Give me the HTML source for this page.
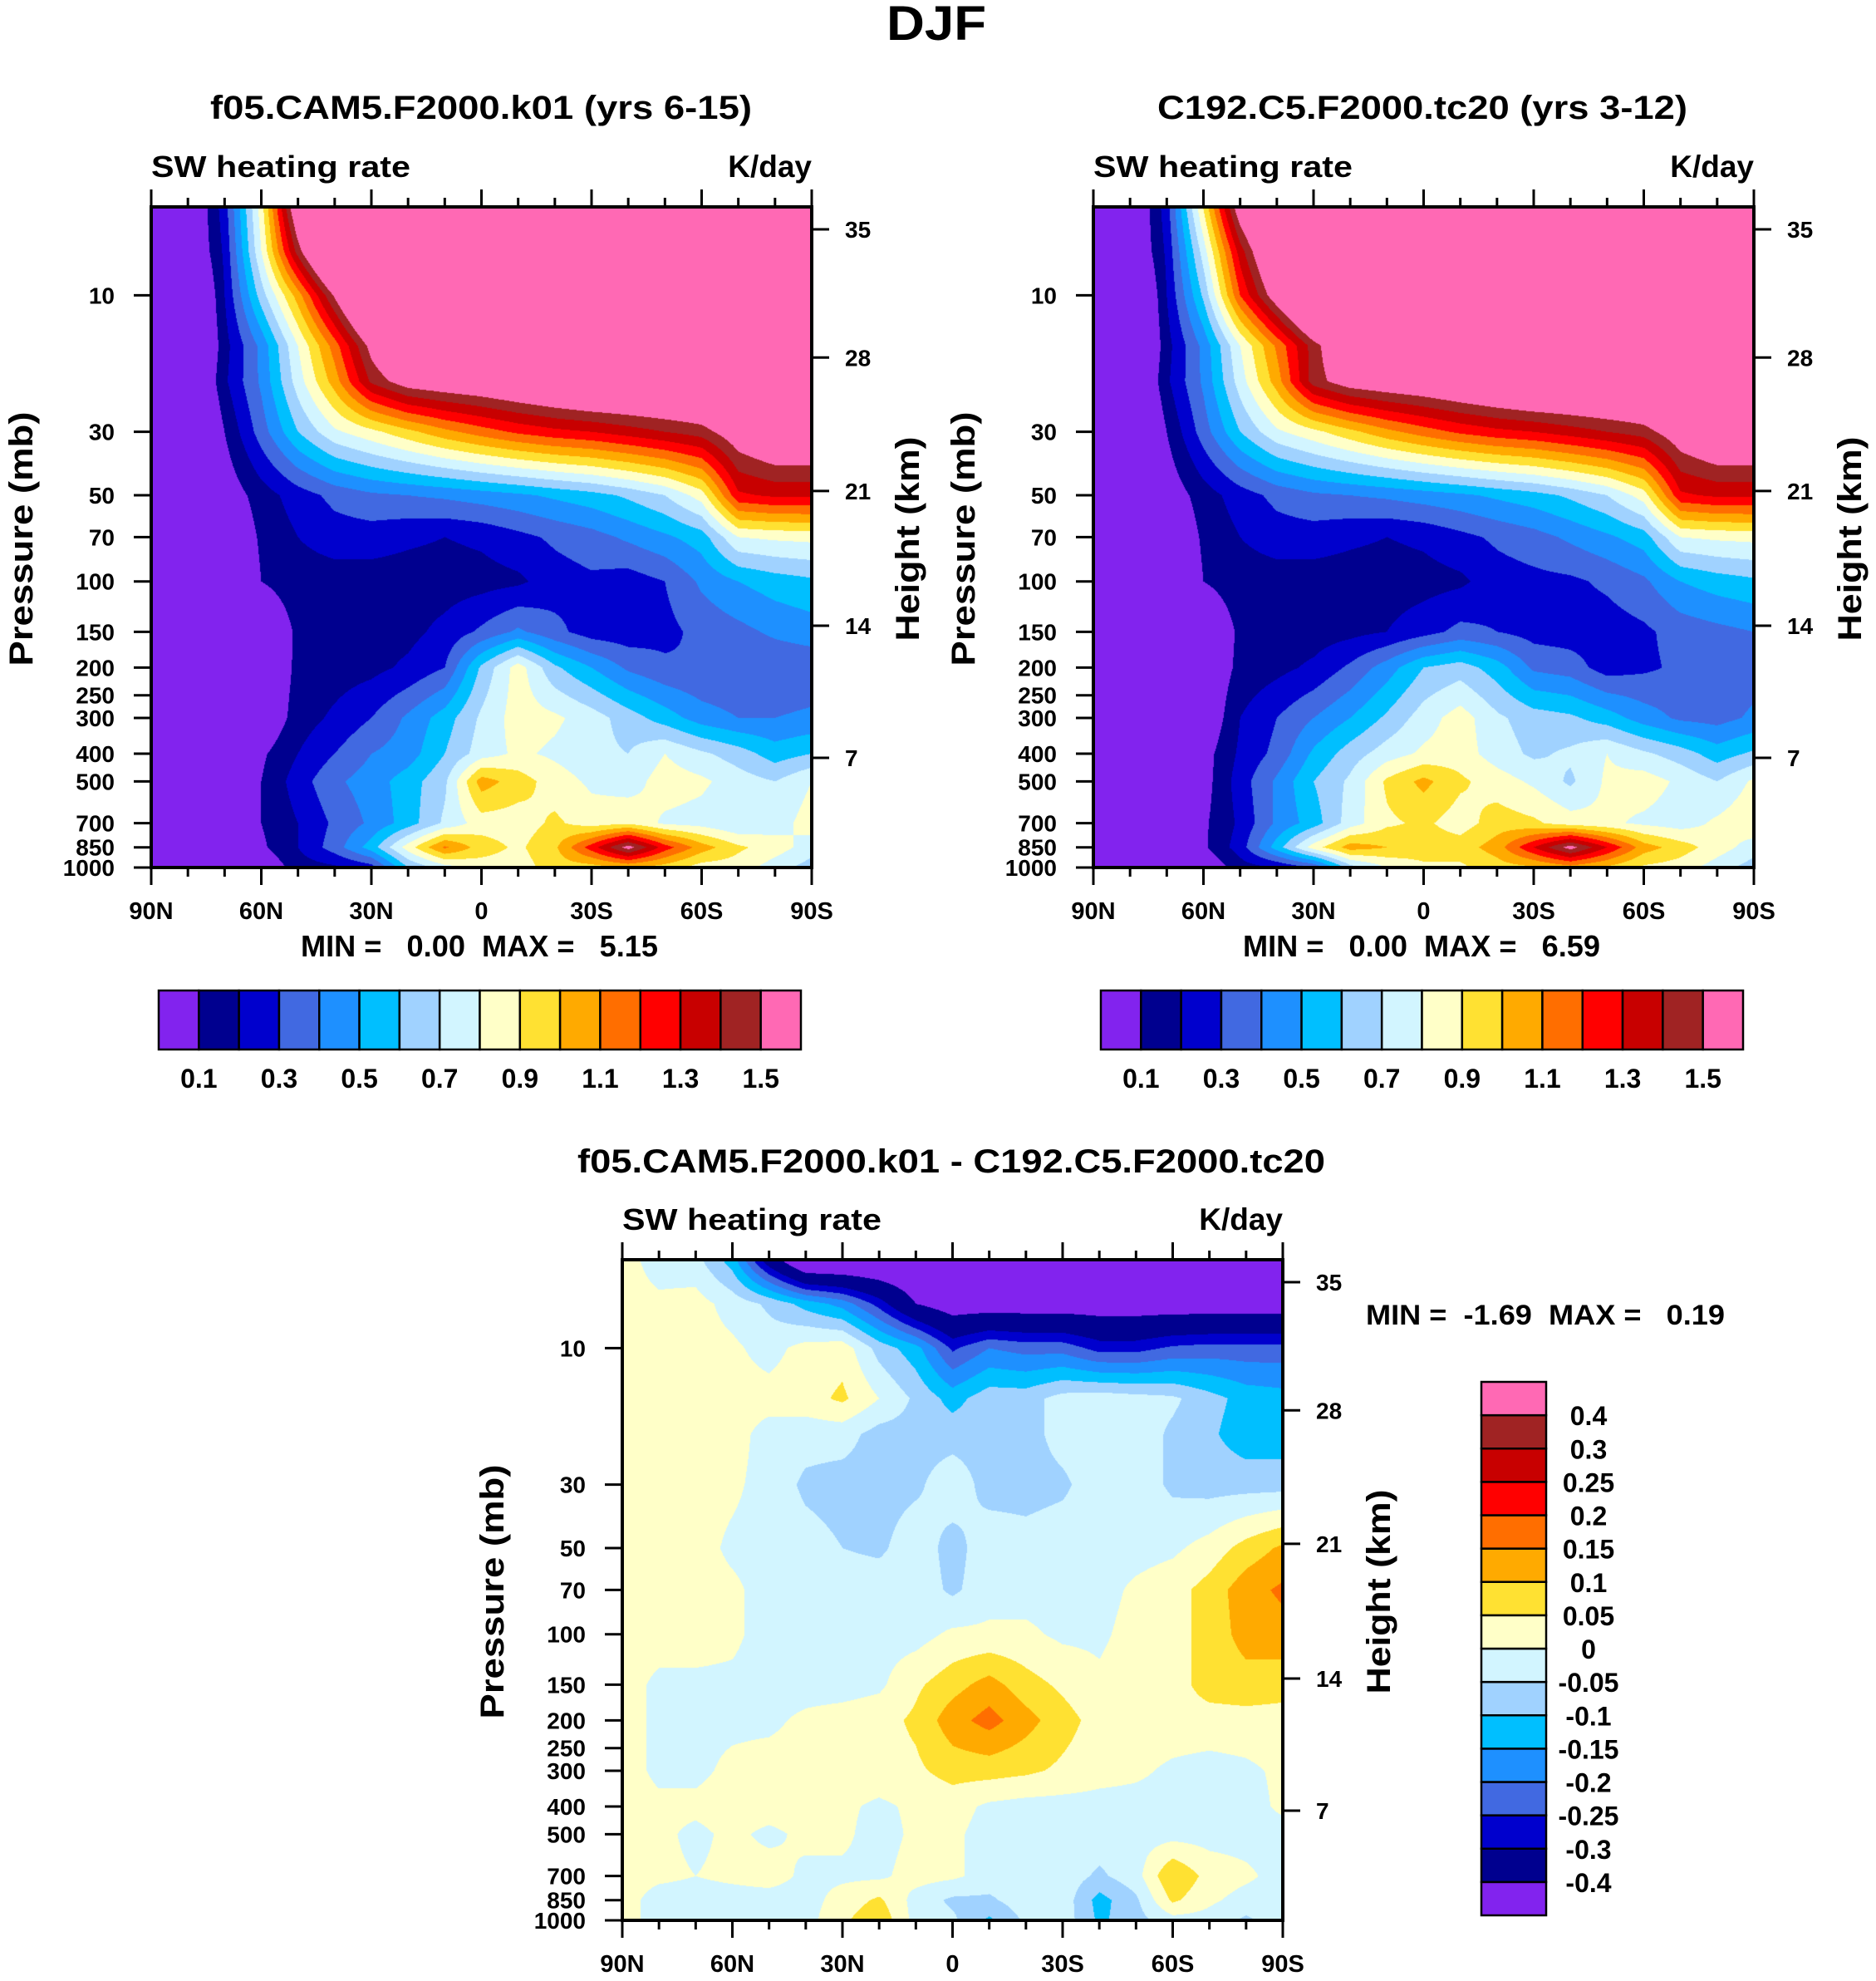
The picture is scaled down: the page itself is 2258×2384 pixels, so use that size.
<!DOCTYPE html>
<html><head><meta charset="utf-8">
<style>
html,body{margin:0;padding:0;background:#fff;}
#page{position:relative;width:2258px;height:2384px;overflow:hidden;background:#fff;font-family:"Liberation Sans",sans-serif;}
canvas{position:absolute;}
#ov{position:absolute;left:0;top:0;}
text{font-family:"Liberation Sans",sans-serif;font-weight:bold;fill:#000;white-space:pre;}
</style></head>
<body>
<div id="page">
<canvas id="c1" width="795" height="795" style="left:182px;top:249px"></canvas>
<canvas id="c2" width="795" height="795" style="left:1316px;top:249px"></canvas>
<canvas id="c3" width="795" height="795" style="left:749px;top:1516px"></canvas>
<svg id="ov" width="2258" height="2384" xmlns="http://www.w3.org/2000/svg"></svg>
</div>
<script>
// ---- data ----
const LATS=[90,80,70,60,50,40,30,20,10,0,-10,-20,-30,-40,-50,-60,-70,-80,-90];
const PRES=[5,7,10,15,20,30,50,70,100,150,200,300,400,500,700,850,1000];
const LEVELS_ABS=[0.1,0.2,0.3,0.4,0.5,0.6,0.7,0.8,0.9,1.0,1.1,1.2,1.3,1.4,1.5];
const LEVELS_DIFF=[-0.4,-0.3,-0.25,-0.2,-0.15,-0.1,-0.05,0,0.05,0.1,0.15,0.2,0.25,0.3,0.4];
const ABS_LABELS=["0.1","0.3","0.5","0.7","0.9","1.1","1.3","1.5"];
const DIFF_LABELS=["-0.4","-0.3","-0.25","-0.2","-0.15","-0.1","-0.05","0","0.05","0.1","0.15","0.2","0.25","0.3","0.4"];
const COLORS=["#8223ee","#00008f","#0000cd","#4169e1","#1e90ff","#00bfff","#a0d2ff","#d2f5ff","#ffffc8","#ffe132","#ffaa00","#ff6e00","#ff0000","#c80000","#a02323","#ff69b4"];
const P_TICKS=[10,30,50,70,100,150,200,250,300,400,500,700,850,1000];
const H_TICKS=["35","28","21","14","7"];
const H_FRAC=[0.034,0.228,0.430,0.634,0.834];
const LAT_LABELS=["90N","60N","30N","0","30S","60S","90S"];

const FIELD1=[
[-.3,-.07,.25,.85,1.66,2,2,2,2,2,2,2,2,2,2,2,2,2,2],
[-.3,-.07,.22,.8,1.45,2,2,2,2,2,2,2,2,2,2,2,2,2,2],
[-.3,-.2,.2,.65,1.05,1.52,2,2,2,2,2,2,2,2,2,2,2,2,2],
[-.3,-.2,.16,.43,.8,1.15,1.55,1.8,2,2,2,2,2,2,2,2,2,2,2],
[-.3,-.15,.18,.42,.75,1.05,1.42,1.58,1.62,1.65,1.7,1.75,1.8,1.8,1.8,1.8,1.9,2,2],
[-.3,-.2,.1,.35,.6,.78,.87,.97,1.07,1.15,1.22,1.27,1.3,1.35,1.4,1.45,1.6,1.7,1.7],
[-.3,-.2,.02,.15,.25,.33,.38,.4,.42,.45,.48,.52,.56,.62,.7,.85,1.28,1.32,1.32],
[-.3,-.2,-.05,.12,.2,.25,.25,.22,.2,.22,.27,.32,.36,.42,.48,.55,.8,.82,.83],
[-.3,-.2,-.1,.1,.15,.15,.15,.15,.15,.16,.18,.25,.28,.25,.3,.42,.5,.55,.58],
[-.3,-.2,-.15,-.02,.12,.15,.15,.17,.23,.32,.42,.33,.25,.24,.27,.33,.37,.42,.45],
[-.3,-.2,-.15,-.05,.13,.15,.17,.22,.3,.62,.85,.62,.5,.38,.32,.3,.3,.32,.33],
[-.3,-.2,-.15,-.02,.15,.22,.3,.42,.55,.72,.85,.82,.75,.65,.55,.45,.4,.4,.42],
[-.3,-.2,-.15,.08,.2,.3,.4,.45,.6,.75,.82,.78,.73,.7,.8,.72,.65,.55,.6],
[-.3,-.2,-.15,.1,.25,.38,.45,.55,.68,1.05,.95,.85,.78,.75,.85,.82,.75,.7,.8],
[-.3,-.2,-.15,.1,.2,.32,.42,.55,.72,.85,.85,.92,.85,.88,.78,.76,.7,.75,.85],
[-.3,-.2,-.15,.08,.2,.35,.55,.85,1.12,.95,.88,.98,1.25,1.55,1.25,1.05,.92,.85,.75],
[-.3,-.2,-.1,0,.15,.18,.25,.6,.75,.85,.85,.95,.95,1,.95,.85,.85,.75,.65]];

const FIELD2=[
[-.3,-.07,.25,.9,1.6,2,2,2,2,2,2,2,2,2,2,2,2,2,2],
[-.3,-.07,.22,.75,1.35,1.8,2,2,2,2,2,2,2,2,2,2,2,2,2],
[-.3,-.2,.2,.62,1.2,1.6,2,2,2,2,2,2,2,2,2,2,2,2,2],
[-.3,-.2,.16,.43,.8,1.12,1.45,1.7,2,2,2,2,2,2,2,2,2,2,2],
[-.3,-.15,.18,.42,.75,1.05,1.45,1.58,1.62,1.65,1.7,1.75,1.8,1.8,1.8,1.8,1.9,2,2],
[-.3,-.2,.1,.35,.6,.78,.87,.97,1.07,1.15,1.22,1.27,1.3,1.35,1.4,1.45,1.6,1.7,1.7],
[-.3,-.2,.02,.15,.25,.33,.38,.4,.42,.45,.48,.52,.56,.62,.7,.85,1.28,1.32,1.32],
[-.3,-.2,-.05,.12,.2,.25,.25,.22,.2,.22,.27,.32,.36,.42,.48,.55,.8,.82,.83],
[-.3,-.2,-.1,.1,.15,.15,.15,.15,.15,.16,.18,.25,.27,.28,.32,.38,.5,.55,.58],
[-.3,-.2,-.15,-.02,.12,.15,.15,.17,.2,.26,.33,.3,.26,.25,.25,.28,.34,.37,.4],
[-.3,-.2,-.15,-.02,.13,.17,.22,.32,.45,.6,.65,.55,.38,.35,.25,.28,.32,.33,.35],
[-.3,-.2,-.15,-.02,.2,.3,.4,.5,.62,.75,.85,.72,.65,.62,.55,.45,.38,.36,.42],
[-.3,-.2,-.15,.05,.22,.33,.52,.65,.75,.82,.85,.75,.68,.72,.8,.72,.65,.55,.62],
[-.3,-.2,-.15,.05,.25,.42,.6,.72,.92,1.03,.92,.85,.78,.68,.82,.85,.78,.7,.82],
[-.3,-.2,-.15,.08,.22,.42,.55,.75,.88,.92,.85,.95,.92,.85,.82,.78,.75,.82,.88],
[-.3,-.2,-.15,.08,.25,.55,.85,1.05,1.0,.95,.95,1.05,1.3,1.55,1.3,1.05,.95,.85,.75],
[-.3,-.2,-.1,0,.15,.2,.3,.65,.8,.88,.88,.95,.98,1.05,.98,.88,.85,.75,.65]];

const FIELD3=[
[.02,-.02,-.03,-.12,-.33,-.5,-.5,-.5,-.5,-.5,-.5,-.5,-.5,-.5,-.5,-.5,-.5,-.5,-.5],
[.02,.01,.02,-.02,-.06,-.12,-.17,-.27,-.4,-.45,-.45,-.45,-.45,-.45,-.45,-.45,-.45,-.45,-.45],
[.02,.02,.02,.01,-.02,.02,.03,-.07,-.13,-.26,-.2,-.22,-.22,-.27,-.27,-.24,-.23,-.23,-.23],
[.02,.02,.02,.02,.02,.03,.06,0,-.06,-.12,-.07,-.07,-.03,-.02,-.03,-.04,-.08,-.12,-.13],
[.02,.02,.02,.02,-.02,-.03,-.03,-.07,-.07,-.07,-.07,-.07,-.03,-.02,-.02,-.06,-.09,-.13,-.13],
[.02,.02,.02,.01,-.02,-.06,-.07,-.07,-.06,-.02,-.07,-.07,-.06,-.02,-.02,-.06,-.07,-.07,-.07],
[.02,.02,.02,-.01,-.02,-.03,-.05,-.06,-.02,-.07,-.02,-.03,-.02,-.02,-.02,-.01,.02,.07,.11],
[.02,.02,.02,.01,-.02,-.02,-.02,-.02,-.02,-.06,-.02,-.02,-.02,-.02,.01,.03,.07,.13,.16],
[.02,.02,.02,.01,-.02,-.02,-.02,-.02,-.02,.01,.01,.01,-.01,-.01,.02,.03,.07,.12,.13],
[.02,-.01,-.01,-.01,-.02,-.02,-.02,-.01,.04,.08,.12,.07,.04,.01,.03,.03,.07,.08,.07],
[.02,-.01,-.01,-.01,-.01,.01,.02,.03,.06,.13,.17,.12,.07,.03,.03,.03,.03,.03,.03],
[.02,-.01,-.01,.01,.02,.02,.03,.03,.04,.07,.07,.06,.04,.02,.01,-.01,-.02,-.01,.01],
[.02,.01,.01,.02,.02,.02,.01,-.01,.01,.02,-.01,-.02,-.02,-.02,-.02,-.02,-.02,-.02,.01],
[.02,.01,-.01,.01,-.01,.01,.01,-.02,.01,.01,-.02,-.02,-.02,-.02,-.02,-.02,-.02,-.02,-.02],
[.02,.01,0,.01,.02,-.01,-.01,-.01,.02,.01,-.02,-.02,-.02,-.06,-.02,.1,.03,.01,-.02],
[.02,-.02,-.02,-.02,-.02,-.02,.02,.06,-.02,-.06,-.06,-.02,-.02,-.12,-.06,.06,.01,-.02,-.02],
[.02,-.02,-.02,-.02,-.02,-.02,.04,.09,-.02,-.04,-.11,-.04,-.02,-.11,-.07,-.02,-.02,-.06,-.02]];

// ---- scales ----
const LOGTOP=0.691, LOGBOT=3.0;
function yOfP(p,oy,H){return oy+(Math.log10(p)-LOGTOP)/(LOGBOT-LOGTOP)*H;}
function xOfLat(lat,ox,W){return ox+(90-lat)/180*W;}

function hexRGB(h){return [parseInt(h.substr(1,2),16),parseInt(h.substr(3,2),16),parseInt(h.substr(5,2),16)];}
const RGB=COLORS.map(hexRGB);
const LOGP=PRES.map(p=>Math.log10(p));

function drawField(id,field,levels){
  const cv=document.getElementById(id),ctx=cv.getContext('2d');
  const W=cv.width,H=cv.height,img=ctx.createImageData(W,H),d=img.data;
  const colIdx=[],colT=[];
  for(let x=0;x<W;x++){const lat=90-(x+0.5)/W*180;let f=(90-lat)/10;let i=Math.min(17,Math.floor(f));colIdx.push(i);colT.push(f-i);}
  for(let y=0;y<H;y++){
    const lp=LOGTOP+(y+0.5)/H*(LOGBOT-LOGTOP);
    let j=0;while(j<LOGP.length-2&&lp>LOGP[j+1])j++;
    let t=(lp-LOGP[j])/(LOGP[j+1]-LOGP[j]);t=Math.max(0,Math.min(1,t));
    const r0=field[j],r1=field[j+1];
    for(let x=0;x<W;x++){
      const i=colIdx[x],s=colT[x];
      const v=(r0[i]*(1-s)+r0[i+1]*s)*(1-t)+(r1[i]*(1-s)+r1[i+1]*s)*t;
      let k=0;while(k<levels.length&&v>=levels[k])k++;
      const c=RGB[k],o=(y*W+x)*4;d[o]=c[0];d[o+1]=c[1];d[o+2]=c[2];d[o+3]=255;
    }
  }
  ctx.putImageData(img,0,0);
}
drawField('c1',FIELD1,LEVELS_ABS);
drawField('c2',FIELD2,LEVELS_ABS);
drawField('c3',FIELD3,LEVELS_DIFF);

// ---- overlay ----
const NS="http://www.w3.org/2000/svg",svg=document.getElementById('ov');
function el(tag,attrs,parent){const e=document.createElementNS(NS,tag);for(const k in attrs)e.setAttribute(k,attrs[k]);(parent||svg).appendChild(e);return e;}
function txt(s,attrs,parent){const e=el('text',attrs,parent);e.textContent=s;return e;}

function axes(ox,oy,W,H,pfx){
  const g=el('g',{});
  
  
  for(let lat=90;lat>=-90;lat-=10){
    const x=xOfLat(lat,ox,W),L=(lat%30===0)?21:11;
    const t1=el('line',{x1:x,y1:oy,x2:x,y2:oy-L,stroke:'#000','stroke-width':3},g);
    
    
    const t2=el('line',{x1:x,y1:oy+H,x2:x,y2:oy+H+L,stroke:'#000','stroke-width':3},g);
    
    
  }
  LAT_LABELS.forEach((s,i)=>{
    const t=txt(s,{x:ox+i*W/6,y:oy+H+62,'font-size':29,'text-anchor':'middle'},g);
    
    
  });
  P_TICKS.forEach(p=>{
    const y=yOfP(p,oy,H);
    const l=el('line',{x1:ox-21,y1:y,x2:ox,y2:y,stroke:'#000','stroke-width':3},g);
    
    
    const t=txt(String(p),{x:ox-44,y:y+10,'font-size':28,'text-anchor':'end'},g);
    
    
  });
  H_TICKS.forEach((s,i)=>{
    const y=oy+H_FRAC[i]*H;
    const l=el('line',{x1:ox+W,y1:y,x2:ox+W+21,y2:y,stroke:'#000','stroke-width':3},g);
    
    
    const t=txt(s,{x:ox+W+40,y:y+10,'font-size':28,'text-anchor':'start'},g);
    
    
  });
  const b=el('rect',{x:ox,y:oy,width:W,height:H,fill:'none',stroke:'#000','stroke-width':4},g);
  
  
  const yl=txt('Pressure (mb)',{x:0,y:0,'font-size':40,'text-anchor':'middle',textLength:306,lengthAdjust:'spacingAndGlyphs',transform:`translate(${ox-143},${oy+H/2+2}) rotate(-90)`},g);
  
  
  const hl=txt('Height (km)',{x:0,y:0,'font-size':40,'text-anchor':'middle',textLength:246,lengthAdjust:'spacingAndGlyphs',transform:`translate(${ox+W+129},${oy+H/2+2}) rotate(-90)`},g);
  
  
  const a=txt('SW heating rate',{x:ox,y:oy-36,'font-size':36,textLength:312,lengthAdjust:'spacingAndGlyphs'},g);
  
  
  const u=txt('K/day',{x:ox+W,y:oy-36,'font-size':37,'text-anchor':'end'},g);
  
  
}
axes(182,249,795,795,'control');
axes(1316,249,795,795,'test');
axes(749,1516,795,795,'diff');

function title(s,cx,y,len,size,name){
  const t=txt(s,{x:cx,y:y,'font-size':size,'text-anchor':'middle',textLength:len,lengthAdjust:'spacingAndGlyphs'});
  t.setAttribute('xml:space','preserve');
  
  
}
title('DJF',1127,48,120,58,'figure-title');
title('f05.CAM5.F2000.k01 (yrs 6-15)',579,143,652,40,'control-title');
title('C192.C5.F2000.tc20 (yrs 3-12)',1712,143,638,40,'test-title');
title('f05.CAM5.F2000.k01 - C192.C5.F2000.tc20',1145,1411,900,40,'difference-title');
title('MIN =   0.00  MAX =   5.15',577,1151,430,36,'control-minmax');
title('MIN =   0.00  MAX =   6.59',1711,1151,430,36,'test-minmax');
title('MIN =  -1.69  MAX =   0.19',1860,1594,432,34,'difference-minmax');

// horizontal colorbars
function hbar(x0,y0,w,h,name){
  const g=el('g',{});
  
  
  const bw=w/COLORS.length;
  COLORS.forEach((c,i)=>{
    const r=el('rect',{x:x0+i*bw,y:y0,width:bw,height:h,fill:c,stroke:'#000','stroke-width':2.5},g);
    
    
  });
  ABS_LABELS.forEach((s,i)=>{
    const t=txt(s,{x:x0+(1+2*i)*bw,y:y0+h+46,'font-size':32,'text-anchor':'middle'},g);
    
    
  });
}
hbar(191,1192,773,71,'control-colorbar');
hbar(1325,1192,773,71,'test-colorbar');

// vertical colorbar
(function(){
  const x0=1783,y0=1663,w=78,h=642;
  const g=el('g',{});
  
  
  const bh=h/COLORS.length;
  COLORS.forEach((c,i)=>{
    const r=el('rect',{x:x0,y:y0+h-(i+1)*bh,width:w,height:bh,fill:c,stroke:'#000','stroke-width':2.5},g);
    
    
  });
  DIFF_LABELS.forEach((s,i)=>{
    const t=txt(s,{x:1912,y:y0+h-(i+1)*bh+12,'font-size':32,'text-anchor':'middle'},g);
    
    
  });
})();
</script>
</body></html>
